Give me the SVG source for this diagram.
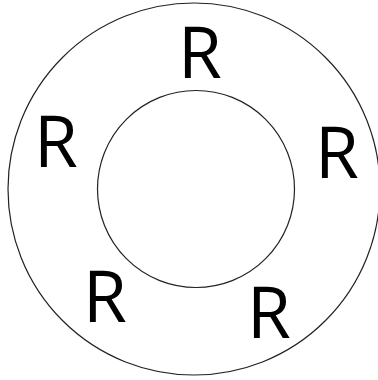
<svg xmlns="http://www.w3.org/2000/svg" width="378" height="380" viewBox="0 0 378 380">
<style>
.ring{fill:none;stroke:#222;stroke-width:1.2}
.lbl{font-family:"Open Sans","Noto Sans",sans-serif;font-size:71px;fill:#000;text-anchor:middle}
</style>
<rect width="378" height="380" fill="#fff"/>
<g id="outer"><circle class="ring" cx="194" cy="189" r="186"/></g>
<g id="inner"><circle class="ring" cx="196" cy="189" r="98.5"/></g>
<g id="labels">
<text class="lbl" x="200" y="78">R</text>
<text class="lbl" x="56" y="167">R</text>
<text class="lbl" x="337" y="178">R</text>
<text class="lbl" x="105" y="322">R</text>
<text class="lbl" x="269" y="338">R</text>
</g>
</svg>
